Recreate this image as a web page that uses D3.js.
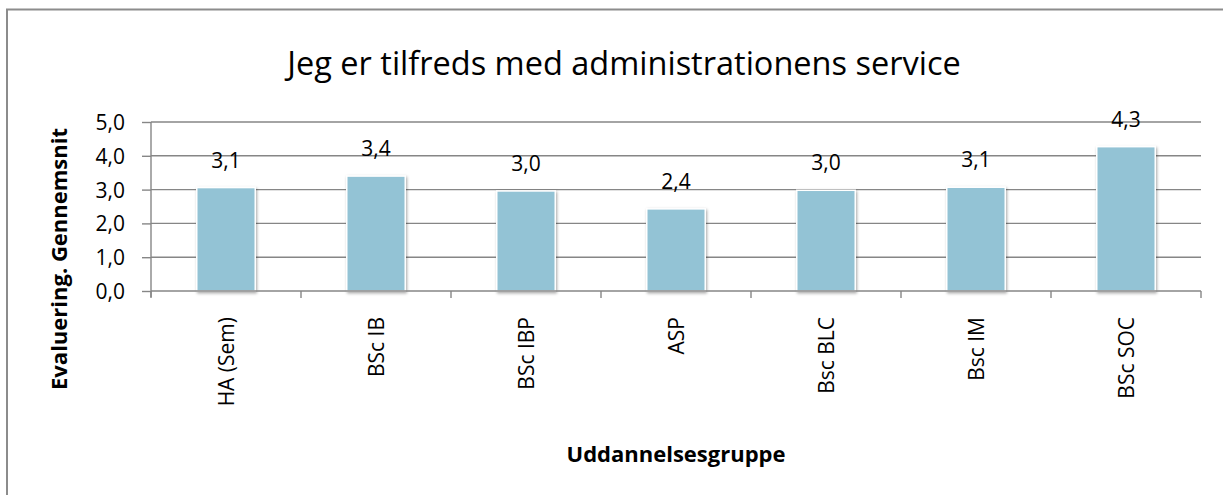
<!DOCTYPE html>
<html>
<head>
<meta charset="utf-8">
<script src="https://cdn.jsdelivr.net/npm/d3@7"></script>
<style>
  body { margin: 0; background: #fff; }
  text { font-family: "Open Sans", "Noto Sans", sans-serif; fill: #000; }
</style>
</head>
<body>
<svg id="chart" width="1223" height="495"></svg>
<script>
"use strict";

const categories = ["HA (Sem)", "BSc IB", "BSc IBP", "ASP", "Bsc BLC", "Bsc IM", "BSc SOC"];
const values = [3.06, 3.40, 2.96, 2.43, 2.98, 3.07, 4.27];
const yTicks = [0, 1, 2, 3, 4, 5];

const svg = d3.select("#chart");
const plotLeft = 151, plotRight = 1201, plotTop = 122, plotBottom = 291;

// outer chart frame (runs off the right/bottom of the picture)
svg.append("rect").attr("x", 7).attr("y", 9.5).attr("width", 1240).attr("height", 520)
  .attr("fill", "none").attr("stroke", "#8c8c8c").attr("stroke-width", 2);

const defs = svg.append("defs");
const shadow = defs.append("filter").attr("id", "shadow").attr("x", "-20%").attr("y", "-10%").attr("width", "140%").attr("height", "130%");
shadow.append("feDropShadow").attr("dx", 1).attr("dy", 1.5).attr("stdDeviation", 1.5).attr("flood-color", "#000").attr("flood-opacity", 0.35);

const x = d3.scaleBand().domain(categories).range([plotLeft, plotRight]).paddingInner(0.61).paddingOuter(0.305);
const band = d3.scaleBand().domain(categories).range([plotLeft, plotRight]);
const y = d3.scaleLinear().domain([0, 5]).range([plotBottom, plotTop]);

// title
svg.append("text").attr("x", 624).attr("y", 75).attr("text-anchor", "middle")
  .style("font-size", "32.5px").text("Jeg er tilfreds med administrationens service");

// gridlines
svg.append("g").selectAll("line").data(yTicks.filter(d => d > 0)).enter().append("line")
  .attr("x1", plotLeft).attr("x2", plotRight).attr("y1", d => y(d)).attr("y2", d => y(d))
  .attr("stroke", "#868686").attr("stroke-width", 1.4);

// y axis
const yAxis = svg.append("g").attr("transform", "translate(" + plotLeft + ",0)")
  .call(d3.axisLeft(y).tickValues(yTicks).tickSize(9).tickPadding(17)
    .tickFormat(d => d3.format(".1f")(d).replace(".", ",")));
yAxis.select(".domain").attr("stroke", "#868686").attr("stroke-width", 1.4).attr("d", "M0," + plotTop + "V" + (plotBottom + 6));
yAxis.selectAll(".tick line").attr("stroke", "#868686").attr("stroke-width", 1.4);
yAxis.selectAll(".tick text").style("font-size", "21px").attr("dy", "0.36em");

// bars
svg.append("g").selectAll("rect").data(values).enter().append("rect")
  .attr("x", (d, i) => x(categories[i]))
  .attr("y", d => y(d))
  .attr("width", x.bandwidth())
  .attr("height", d => plotBottom - y(d))
  .attr("fill", "#93c3d5")
  .attr("stroke", "#fff").attr("stroke-width", 1.5)
  .attr("filter", "url(#shadow)");

// x axis
const xAxis = svg.append("g").attr("transform", "translate(0," + plotBottom + ")");
xAxis.append("line").attr("x1", plotLeft).attr("x2", plotRight).attr("stroke", "#868686").attr("stroke-width", 1.4);
xAxis.selectAll(".tk").data(categories.concat(["end"])).enter().append("line").attr("class", "tk")
  .attr("x1", (d, i) => plotLeft + i * band.bandwidth()).attr("x2", (d, i) => plotLeft + i * band.bandwidth())
  .attr("y1", 0).attr("y2", 7).attr("stroke", "#868686").attr("stroke-width", 1.4);
xAxis.selectAll("text").data(categories).enter().append("text")
  .attr("transform", d => "translate(" + (band(d) + band.bandwidth() / 2 + 8) + ",26) rotate(-90)")
  .attr("text-anchor", "end").style("font-size", "21px").text(d => d);

// data labels
svg.append("g").selectAll("text").data(values).enter().append("text")
  .attr("x", (d, i) => band(categories[i]) + band.bandwidth() / 2)
  .attr("y", d => y(d) - 20)
  .attr("text-anchor", "middle").style("font-size", "21px")
  .text(d => d3.format(".1f")(d).replace(".", ","));

// axis titles
svg.append("text").attr("x", (plotLeft + plotRight) / 2).attr("y", 462).attr("text-anchor", "middle")
  .style("font-size", "22px").style("font-weight", "bold").text("Uddannelsesgruppe");
svg.append("text").attr("transform", "translate(67,259) rotate(-90)").attr("text-anchor", "middle")
  .style("font-size", "22px").style("font-weight", "bold").text("Evaluering. Gennemsnit");
</script>
</body>
</html>
